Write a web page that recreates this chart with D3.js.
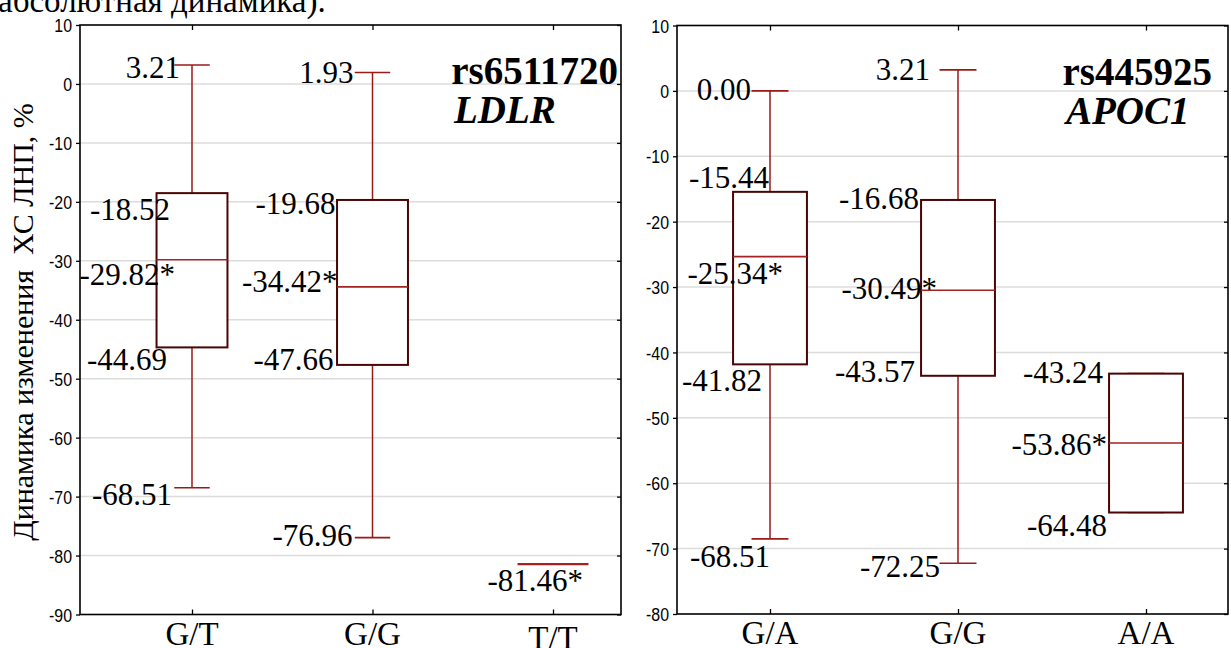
<!DOCTYPE html>
<html>
<head>
<meta charset="utf-8">
<script src="https://cdn.jsdelivr.net/npm/d3@7"></script>
<style>
  body { margin: 0; background: #fff; }
  svg { display: block; }
</style>
</head>
<body>
<script>
// LDLR rs6511720 - box stats per genotype
var ldlrGenotypes = ["G/T", "G/G", "T/T"];
var ldlrMax    = [3.21, 1.93, -81.46];
var ldlrQ3     = [-18.52, -19.68, -81.46];
var ldlrMedian = [-29.82, -34.42, -81.46];
var ldlrQ1     = [-44.69, -47.66, -81.46];
var ldlrMin    = [-68.51, -76.96, -81.46];
var ldlrTicks  = [10, 0, -10, -20, -30, -40, -50, -60, -70, -80, -90];

// APOC1 rs445925
var apocGenotypes = ["G/A", "G/G", "A/A"];
var apocMax    = [0.00, 3.21, -43.24];
var apocQ3     = [-15.44, -16.68, -43.24];
var apocMedian = [-25.34, -30.49, -53.86];
var apocQ1     = [-41.82, -43.57, -64.48];
var apocMin    = [-68.51, -72.25, -64.48];
var apocTicks  = [10, 0, -10, -20, -30, -40, -50, -60, -70, -80];

// label placement (layout only): [dx from box centre to text end, dy from value to text middle]
var ldlrLabelNudge = [
  {max: [-12, 2], q3: [-22, 16], median: [-17, 15], q1: [-25, 12], min: [-20, 7]},
  {max: [-19, 0], q3: [-37, 3], median: [-35, -5], q1: [-39, -5], min: [-20, -2]},
  {median: [30, 16]}
];
var apocLabelNudge = [
  {max: [-19, -1], q3: [-1, -14], median: [13, 17], q1: [-8, 16], min: [0, 18]},
  {max: [-28, 0], q3: [-39, -1], median: [-21, -2], q1: [-43, -4], min: [-18, 3]},
  {q3: [-43, -1], median: [-39, 1], q1: [-39, 13]}
];

var svg = d3.select("body").append("svg")
  .attr("width", 1231)
  .attr("height", 648);

var serif = "'Liberation Serif', 'Times New Roman', serif";

// cut-off line of the surrounding text
svg.append("text")
  .attr("x", -2)
  .attr("y", 12)
  .style("font-family", serif)
  .style("font-size", "33px")
  .text("абсолютная динамика).");

// y axis title
svg.append("text")
  .attr("transform", "translate(33,322) rotate(-90)")
  .attr("text-anchor", "middle")
  .style("font-family", serif)
  .style("font-size", "30px")
  .style("white-space", "pre")
  .text("Динамика изменения  ХС ЛНП, %");

function drawPanel(cfg) {
  var x = d3.scalePoint()
    .domain(cfg.genotypes)
    .range([cfg.left + cfg.padL, cfg.right - cfg.padR]);
  var y = d3.scaleLinear()
    .domain(cfg.domain)
    .range([cfg.bottom, cfg.top]);

  var boxW = x.step() * 0.393;
  var capW = boxW / 2;

  var rows = cfg.genotypes.map(function(gt, i) {
    return {gt: gt, max: cfg.max[i], q3: cfg.q3[i], median: cfg.median[i],
            q1: cfg.q1[i], min: cfg.min[i], nudge: cfg.nudge[i]};
  });

  var g = svg.append("g");

  // gridlines
  g.selectAll(".grid")
    .data(cfg.ticks.filter(function(t) { return t > cfg.domain[0] && t < cfg.domain[1]; }))
    .enter().append("line")
    .attr("x1", cfg.left).attr("x2", cfg.right)
    .attr("y1", function(d) { return y(d); })
    .attr("y2", function(d) { return y(d); })
    .attr("stroke", "#dcdcdc")
    .attr("stroke-width", 1.5);

  // left axis with narrow labels
  var leftAxis = d3.axisLeft(y)
    .tickValues(cfg.ticks)
    .tickSize(4)
    .tickFormat(function(d) { return String(d); });
  var la = g.append("g")
    .attr("transform", "translate(" + cfg.left + ",0)")
    .call(leftAxis);
  la.select(".domain").remove();
  la.selectAll("line").attr("stroke", "#000").attr("stroke-width", 1.3);
  la.selectAll("text")
    .attr("x", -8 / 0.86)
    .attr("dy", "0.36em")
    .attr("transform", "scale(0.86,1)")
    .attr("fill", "#000")
    .style("font-family", "'Liberation Sans', Arial, sans-serif")
    .style("font-size", "18.5px");

  // right axis ticks (inside)
  var ra = g.append("g")
    .attr("transform", "translate(" + cfg.right + ",0)")
    .call(d3.axisRight(y).tickValues(cfg.ticks).tickSize(-4).tickFormat(""));
  ra.select(".domain").remove();
  ra.selectAll("line").attr("stroke", "#000").attr("stroke-width", 1.3);

  // top and bottom category ticks (inside)
  var ta = g.append("g")
    .attr("transform", "translate(0," + cfg.top + ")")
    .call(d3.axisTop(x).tickSize(-5).tickFormat(""));
  ta.select(".domain").remove();
  ta.selectAll("line").attr("stroke", "#000").attr("stroke-width", 1.3);

  var ba = g.append("g")
    .attr("transform", "translate(0," + cfg.bottom + ")")
    .call(d3.axisBottom(x).tickSize(-5).tickFormat(""));
  ba.select(".domain").remove();
  ba.selectAll("line").attr("stroke", "#000").attr("stroke-width", 1.3);

  // category labels
  g.selectAll(".cat")
    .data(rows)
    .enter().append("text")
    .attr("x", function(d) { return x(d.gt); })
    .attr("y", function(d, i) { return cfg.bottom + (i === cfg.lowLabel ? 34 : 30); })
    .attr("text-anchor", "middle")
    .style("font-family", serif)
    .style("font-size", "33px")
    .text(function(d) { return d.gt; });

  // frame
  g.append("rect")
    .attr("x", cfg.left).attr("y", cfg.top)
    .attr("width", cfg.right - cfg.left)
    .attr("height", cfg.bottom - cfg.top)
    .attr("fill", "none")
    .attr("stroke", "#000")
    .attr("stroke-width", 1.6);

  var box = g.selectAll(".box")
    .data(rows)
    .enter().append("g");

  // whisker
  box.append("line")
    .attr("x1", function(d) { return x(d.gt); })
    .attr("x2", function(d) { return x(d.gt); })
    .attr("y1", function(d) { return y(d.max); })
    .attr("y2", function(d) { return y(d.min); })
    .attr("stroke", "#9a1a1a")
    .attr("stroke-width", 1.5);

  ["max", "min"].forEach(function(k) {
    box.append("line")
      .attr("x1", function(d) { return x(d.gt) - capW / 2; })
      .attr("x2", function(d) { return x(d.gt) + capW / 2; })
      .attr("y1", function(d) { return y(d[k]); })
      .attr("y2", function(d) { return y(d[k]); })
      .attr("stroke", "#9a1a1a")
      .attr("stroke-width", 1.6);
  });

  box.append("rect")
    .attr("x", function(d) { return x(d.gt) - boxW / 2; })
    .attr("y", function(d) { return y(d.q3); })
    .attr("width", boxW)
    .attr("height", function(d) { return y(d.q1) - y(d.q3); })
    .attr("fill", "#fff")
    .attr("stroke", "#4a0505")
    .attr("stroke-width", 2);

  box.append("line")
    .attr("x1", function(d) { return x(d.gt) - boxW / 2; })
    .attr("x2", function(d) { return x(d.gt) + boxW / 2; })
    .attr("y1", function(d) { return y(d.median); })
    .attr("y2", function(d) { return y(d.median); })
    .attr("stroke", "#a52222")
    .attr("stroke-width", function(d) { return d.q3 === d.q1 ? 2.4 : 1.6; });

  // value labels
  rows.forEach(function(d) {
    ["max", "q3", "median", "q1", "min"].forEach(function(k) {
      var n = d.nudge[k];
      if (!n) return;
      g.append("text")
        .attr("x", x(d.gt) + n[0])
        .attr("y", y(d[k]) + n[1])
        .attr("dy", "0.34em")
        .attr("text-anchor", "end")
        .style("font-family", serif)
        .style("font-size", "31px")
        .text(d[k].toFixed(2) + (k === "median" ? "*" : ""));
    });
  });

  // panel title
  g.append("text")
    .attr("x", cfg.titleX)
    .attr("y", cfg.titleY)
    .attr("text-anchor", "end")
    .style("font-family", serif)
    .style("font-size", "39px")
    .style("font-weight", "bold")
    .text(cfg.snp);
  g.append("text")
    .attr("x", cfg.geneX)
    .attr("y", cfg.titleY + 39)
    .style("font-family", serif)
    .style("font-size", "39px")
    .style("font-weight", "bold")
    .style("font-style", "italic")
    .text(cfg.gene);
}

drawPanel({
  left: 80, right: 621, top: 25, bottom: 614.5,
  padL: 112, padR: 68,
  domain: [-90, 10], ticks: ldlrTicks,
  genotypes: ldlrGenotypes,
  max: ldlrMax, q3: ldlrQ3, median: ldlrMedian, q1: ldlrQ1, min: ldlrMin,
  nudge: ldlrLabelNudge, lowLabel: 2,
  snp: "rs6511720", gene: "LDLR", titleX: 618, geneX: 454, titleY: 84
});

drawPanel({
  left: 677, right: 1228, top: 25.5, bottom: 614,
  padL: 93, padR: 82,
  domain: [-80, 10], ticks: apocTicks,
  genotypes: apocGenotypes,
  max: apocMax, q3: apocQ3, median: apocMedian, q1: apocQ1, min: apocMin,
  nudge: apocLabelNudge, lowLabel: -1,
  snp: "rs445925", gene: "APOC1", titleX: 1212, geneX: 1066, titleY: 85
});
</script>
</body>
</html>
